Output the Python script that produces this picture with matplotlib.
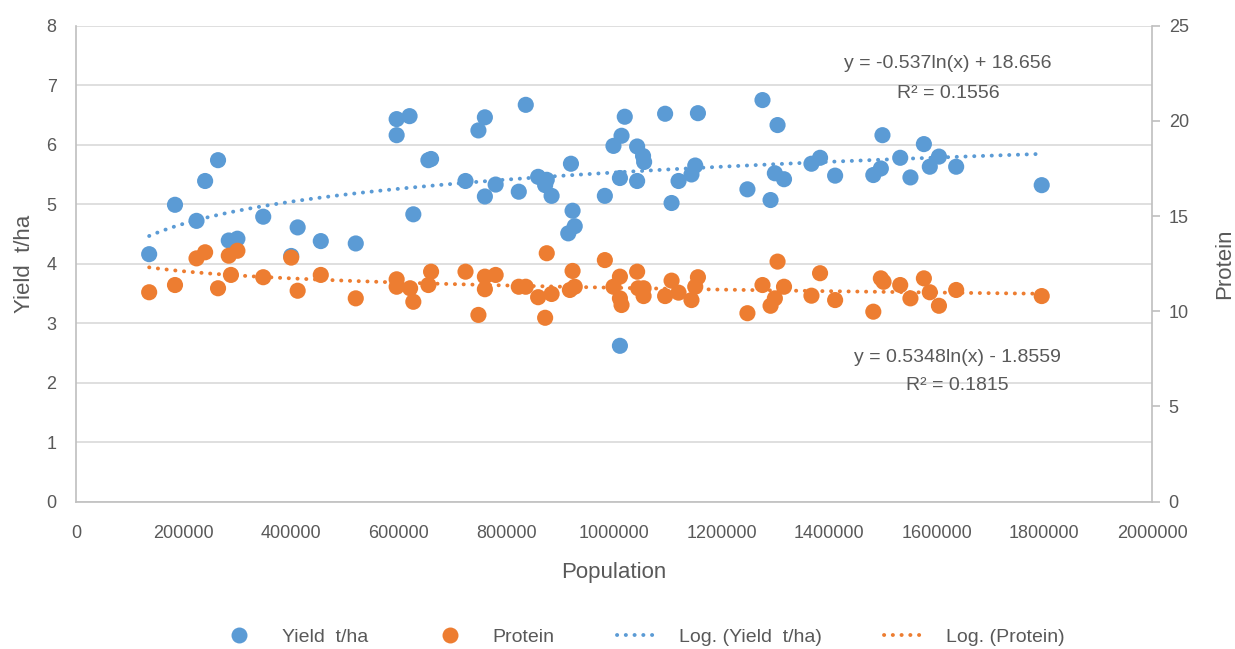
import numpy as np
import matplotlib
matplotlib.use("Agg")
import matplotlib.pyplot as plt
from matplotlib.lines import Line2D

# ---- data ----
pop_yield = [136000, 184000, 224000, 240000, 264000, 284000, 300000, 348000, 400000, 412000,
             455000, 520000, 596000, 596000, 620000, 627000, 655000, 660000, 724000, 748000,
             760000, 760000, 780000, 823000, 836000, 859000, 872000, 875000, 884000, 915000,
             920000, 923000, 927000, 983000, 999000, 1011000, 1011000, 1014000, 1020000, 1043000,
             1043000, 1054000, 1056000, 1095000, 1107000, 1120000, 1144000, 1151000, 1156000, 1248000,
             1276000, 1291000, 1299000, 1304000, 1316000, 1367000, 1383000, 1411000, 1482000, 1496000,
             1499000, 1532000, 1551000, 1576000, 1587000, 1604000, 1636000, 1795000]
yield_t_ha = [4.16, 4.99, 4.72, 5.39, 5.74, 4.39, 4.42, 4.79, 4.13, 4.61,
              4.38, 4.34, 6.43, 6.16, 6.48, 4.83, 5.74, 5.76, 5.39, 6.24,
              6.46, 5.13, 5.33, 5.21, 6.67, 5.46, 5.32, 5.41, 5.14, 4.51,
              5.68, 4.89, 4.63, 5.14, 5.98, 5.44, 2.62, 6.15, 6.47, 5.97,
              5.39, 5.81, 5.71, 6.52, 5.02, 5.39, 5.50, 5.65, 6.53, 5.25,
              6.75, 5.07, 5.52, 6.33, 5.42, 5.68, 5.78, 5.48, 5.49, 5.60,
              6.16, 5.78, 5.45, 6.01, 5.63, 5.80, 5.63, 5.32]

pop_protein = [136000, 184000, 224000, 240000, 264000, 284000, 288000, 300000, 348000, 400000,
               412000, 455000, 520000, 596000, 596000, 621000, 627000, 655000, 660000, 724000,
               748000, 760000, 760000, 780000, 823000, 836000, 859000, 872000, 875000, 884000,
               918000, 923000, 927000, 983000, 999000, 1011000, 1011000, 1014000, 1043000, 1045000,
               1055000, 1055000, 1095000, 1107000, 1120000, 1144000, 1151000, 1156000, 1248000, 1276000,
               1291000, 1299000, 1304000, 1316000, 1367000, 1383000, 1411000, 1482000, 1496000, 1501000,
               1532000, 1551000, 1576000, 1587000, 1604000, 1636000, 1795000]
protein = [11.00, 11.38, 12.78, 13.10, 11.21, 12.92, 11.91, 13.18, 11.79, 12.82,
           11.08, 11.91, 10.68, 11.68, 11.29, 11.21, 10.50, 11.38, 12.08, 12.08,
           9.81, 11.82, 11.16, 11.91, 11.29, 11.29, 10.74, 9.66, 13.05, 10.91,
           11.12, 12.12, 11.29, 12.69, 11.29, 11.82, 10.68, 10.33, 12.08, 11.21,
           11.21, 10.80, 10.80, 11.61, 10.98, 10.59, 11.29, 11.79, 9.90, 11.38,
           10.29, 10.68, 12.61, 11.29, 10.82, 12.00, 10.59, 9.98, 11.73, 11.55,
           11.38, 10.68, 11.73, 11.00, 10.29, 11.12, 10.80]

# logarithmic trendline coefficients shown on the chart
yield_trend = (0.5348, -1.8559)
protein_trend = (-0.537, 18.656)
yield_eq = ["y = 0.5348ln(x) - 1.8559", "R² = 0.1815"]
protein_eq = ["y = -0.537ln(x) + 18.656", "R² = 0.1556"]

x_ticks = [0, 200000, 400000, 600000, 800000, 1000000, 1200000, 1400000, 1600000, 1800000, 2000000]
left_ticks = [0, 1, 2, 3, 4, 5, 6, 7, 8]
right_ticks = [0, 5, 10, 15, 20, 25]

# ---- styling ----
BLUE = "#5B9BD5"
ORANGE = "#ED7D31"
TXT = "#595959"
GRID = "#D9D9D9"
AX = "#BFBFBF"
FONT = "Liberation Sans"
plt.rcParams["font.family"] = [FONT, "DejaVu Sans"]
DOT = (0, (0.05, 2.2))
LW = 2.8

fig = plt.figure(figsize=(12.35, 6.49), dpi=100)
ax = fig.add_axes([76 / 1235, 1 - 501.7 / 649, (1152 - 76) / 1235, (501.7 - 25.7) / 649])
ax2 = ax.twinx()

ax.set_xlim(0, 2000000)
ax.set_ylim(0, 8)
ax2.set_ylim(0, 25)
ax.set_xticks(x_ticks)
ax.set_xticklabels([str(t) for t in x_ticks])
ax.set_yticks(left_ticks)
ax2.set_yticks(right_ticks)

ax.grid(axis="y", color=GRID, linewidth=1.2)
ax.set_axisbelow(True)
for a in (ax, ax2):
    for s in a.spines.values():
        s.set_visible(False)
ax.spines["left"].set_visible(True)
ax.spines["bottom"].set_visible(True)
ax2.spines["right"].set_visible(True)
for s in (ax.spines["left"], ax.spines["bottom"], ax2.spines["right"]):
    s.set_color(AX)
    s.set_linewidth(1.2)

ax.tick_params(axis="x", length=0, pad=17, labelsize=13, labelcolor=TXT)
ax.tick_params(axis="y", length=0, pad=14, labelsize=13, labelcolor=TXT)
ax2.tick_params(axis="y", length=6, width=1.2, color=AX, pad=6, labelsize=13, labelcolor=TXT)

ms = 135
ax.scatter(pop_yield, yield_t_ha, s=ms, color=BLUE, edgecolors="none", zorder=3)
xy = np.linspace(min(pop_yield), max(pop_yield), 300)
ax.plot(xy, yield_trend[0] * np.log(xy) + yield_trend[1], color=BLUE, lw=LW,
        linestyle=DOT, dash_capstyle="round", zorder=4)

ax2.scatter(pop_protein, protein, s=ms, color=ORANGE, edgecolors="none", zorder=3)
xp = np.linspace(min(pop_protein), max(pop_protein), 300)
ax2.plot(xp, protein_trend[0] * np.log(xp) + protein_trend[1], color=ORANGE, lw=LW,
         linestyle=DOT, dash_capstyle="round", zorder=4)

ax.set_xlabel("Population", fontsize=16, color=TXT, labelpad=14)
ax.set_ylabel("Yield  t/ha", fontsize=16, color=TXT, labelpad=8)
ax2.set_ylabel("Protein", fontsize=16, color=TXT, labelpad=18)

# equation labels (figure pixel positions)
def ptxt(x, y, s):
    fig.text(x / 1235, 1 - y / 649, s, ha="center", va="center", fontsize=14, color=TXT)

ptxt(948, 64, protein_eq[0])
ptxt(948, 93, protein_eq[1])
ptxt(957, 357, yield_eq[0])
ptxt(957, 386, yield_eq[1])

handles = [
    Line2D([], [], marker="o", linestyle="none", markersize=11.5, color=BLUE, markeredgewidth=0),
    Line2D([], [], marker="o", linestyle="none", markersize=11.5, color=ORANGE, markeredgewidth=0),
    Line2D([], [], color=BLUE, lw=LW, linestyle=DOT, dash_capstyle="round"),
    Line2D([], [], color=ORANGE, lw=LW, linestyle=DOT, dash_capstyle="round"),
]
labels = ["Yield  t/ha", "Protein", "Log. (Yield  t/ha)", "Log. (Protein)"]
leg = fig.legend(handles, labels, loc="center", bbox_to_anchor=(0.52, 1 - 637 / 649), ncol=4,
                 frameon=False, fontsize=14, handlelength=2.0, columnspacing=3.2,
                 handletextpad=1.2)
for t in leg.get_texts():
    t.set_color(TXT)

fig.savefig("out.png", dpi=100, facecolor="white")
